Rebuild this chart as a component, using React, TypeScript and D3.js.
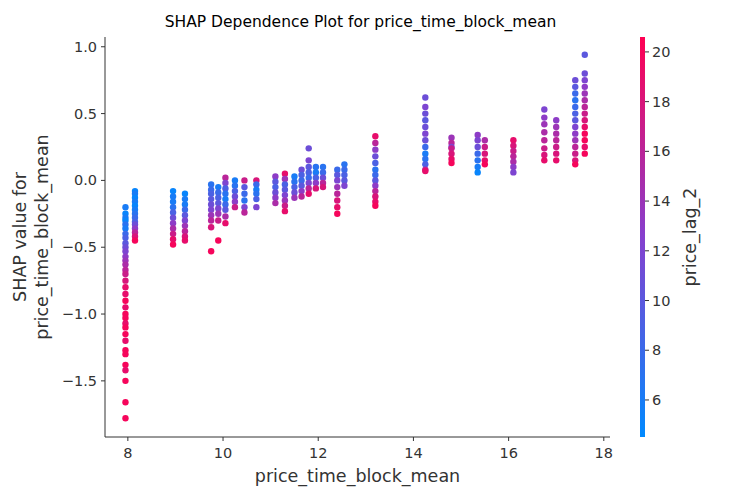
import * as d3 from "d3";

// x position of each vertical strip of points
const xValues = [7.95, 8.15, 8.95, 9.2, 9.75, 9.9, 10.05, 10.25, 10.45, 10.7, 11.1, 11.3, 11.5, 11.65, 11.8, 11.95, 12.1, 12.4, 12.55, 13.2, 14.25, 14.8, 15.35, 15.5, 16.1, 16.75, 17.0, 17.4, 17.6];

// SHAP values per strip
const shapValues = [
  [-0.2, -0.25, -0.28, -0.3, -0.33, -0.36, -0.4, -0.43, -0.47, -0.5, -0.53, -0.57, -0.6, -0.63, -0.67, -0.7, -0.75, -0.8, -0.85, -0.9, -0.95, -1.0, -1.03, -1.07, -1.1, -1.15, -1.2, -1.27, -1.3, -1.38, -1.42, -1.5, -1.66, -1.78],
  [-0.08, -0.1, -0.13, -0.16, -0.19, -0.22, -0.25, -0.28, -0.31, -0.33, -0.36, -0.39, -0.42, -0.45],
  [-0.08, -0.12, -0.16, -0.2, -0.24, -0.28, -0.32, -0.36, -0.4, -0.44, -0.48],
  [-0.1, -0.14, -0.18, -0.22, -0.26, -0.3, -0.34, -0.38, -0.42, -0.45],
  [-0.03, -0.07, -0.1, -0.14, -0.18, -0.22, -0.26, -0.3, -0.35, -0.53],
  [-0.05, -0.09, -0.13, -0.17, -0.21, -0.25, -0.3, -0.45],
  [0.02, -0.02, -0.06, -0.1, -0.14, -0.18, -0.22, -0.27, -0.32],
  [0.0, -0.04, -0.08, -0.12, -0.16, -0.2],
  [0.0, -0.05, -0.1, -0.15, -0.2, -0.24],
  [0.0, -0.03, -0.07, -0.1, -0.14, -0.2],
  [0.03, -0.01, -0.05, -0.09, -0.13, -0.17],
  [0.05, 0.01, -0.03, -0.07, -0.11, -0.15, -0.19, -0.23],
  [0.03, -0.01, -0.05, -0.09, -0.13],
  [0.08, 0.04, 0.0, -0.04, -0.08, -0.12],
  [0.24, 0.15, 0.1, 0.06, 0.02, -0.02, -0.06, -0.1],
  [0.1, 0.06, 0.02, -0.02, -0.06],
  [0.1, 0.06, 0.02, -0.02, -0.05],
  [0.08, 0.04, 0.0, -0.05, -0.1, -0.15, -0.2, -0.25],
  [0.12, 0.08, 0.04, 0.0, -0.04],
  [0.33, 0.28, 0.23, 0.18, 0.13, 0.08, 0.04, 0.0, -0.04, -0.08, -0.12, -0.16, -0.19],
  [0.62, 0.55, 0.5, 0.45, 0.4, 0.35, 0.3, 0.25, 0.2, 0.16, 0.12, 0.08, 0.07],
  [0.32, 0.28, 0.25, 0.24, 0.2, 0.16, 0.13],
  [0.34, 0.3, 0.25, 0.2, 0.15, 0.1, 0.06],
  [0.3, 0.25, 0.2, 0.15, 0.12],
  [0.3, 0.26, 0.22, 0.18, 0.14, 0.1, 0.06],
  [0.53, 0.47, 0.42, 0.36, 0.3, 0.24, 0.19, 0.15],
  [0.45, 0.4, 0.35, 0.3, 0.25, 0.2, 0.15],
  [0.75, 0.7, 0.65, 0.6, 0.55, 0.5, 0.45, 0.4, 0.35, 0.3, 0.25, 0.2, 0.15, 0.12],
  [0.94, 0.8, 0.75, 0.7, 0.65, 0.6, 0.55, 0.5, 0.45, 0.4, 0.35, 0.3, 0.25, 0.2],
];

// price_lag_2 value (colour) per point
const lagValues = [
  [6, 5, 6, 5, 7, 6, 8, 9, 10, 11, 12, 13, 14, 15, 16, 17, 18, 19, 19, 20, 19, 20, 20, 19, 20, 20, 19, 20, 20, 20, 19, 20, 20, 20],
  [5, 6, 5, 6, 5, 6, 7, 8, 9, 11, 13, 16, 18, 20],
  [5, 6, 6, 7, 9, 11, 13, 15, 17, 19, 20],
  [5, 6, 6, 8, 10, 12, 14, 16, 18, 19],
  [7, 8, 9, 10, 11, 12, 14, 16, 18, 20],
  [6, 8, 9, 10, 12, 14, 17, 20],
  [16, 12, 9, 7, 6, 8, 10, 15, 19],
  [6, 7, 9, 11, 13, 17],
  [17, 10, 8, 7, 12, 16],
  [18, 8, 6, 7, 9, 12],
  [13, 10, 9, 11, 13, 15],
  [19, 14, 9, 10, 12, 14, 17, 19],
  [6, 7, 9, 11, 14],
  [11, 9, 8, 10, 13, 16],
  [11, 12, 10, 9, 8, 12, 16, 19],
  [7, 6, 9, 13, 18],
  [7, 8, 11, 16, 18],
  [8, 10, 12, 14, 16, 18, 19, 20],
  [7, 8, 9, 10, 12],
  [19, 16, 13, 11, 9, 7, 8, 10, 13, 16, 18, 19, 20],
  [11, 12, 11, 10, 11, 12, 11, 8, 6, 7, 9, 16, 19],
  [14, 16, 12, 17, 18, 19, 20],
  [13, 12, 11, 8, 7, 6, 5],
  [15, 17, 18, 19, 20],
  [19, 18, 17, 16, 15, 13, 12],
  [12, 13, 14, 15, 16, 17, 18, 19],
  [13, 14, 15, 16, 17, 18, 19],
  [11, 10, 8, 7, 8, 9, 10, 12, 13, 14, 16, 17, 18, 20],
  [10, 11, 12, 13, 14, 15, 16, 17, 18, 19, 20, 20, 19, 20],
];

const xTicks = [8, 10, 12, 14, 16, 18];
const yTicks = [1.0, 0.5, 0.0, -0.5, -1.0, -1.5];
const cTicks = [6, 8, 10, 12, 14, 16, 18, 20];

const W = 750, H = 500;
const m = { left: 105, right: 140, top: 37, bottom: 63 };
const font = "DejaVu Sans, sans-serif";

export default function App() {
  const x = d3.scaleLinear().domain([7.52, 18.13]).range([m.left, W - m.right]);
  const y = d3.scaleLinear().domain([-1.92, 1.073]).range([H - m.bottom, m.top]);
  const cDom: [number, number] = [4.51, 20.6];
  const color = d3.scaleLinear<string>()
    .domain([cDom[0], (cDom[0] + cDom[1]) / 2, cDom[1]])
    .range(["rgb(0,138,255)", "rgb(134,64,206)", "rgb(255,0,82)"])
    .interpolate(d3.interpolateRgb);
  const cy = d3.scaleLinear().domain(cDom).range([H - m.bottom, m.top]);
  const barX = 640, barW = 5;

  const pts = xValues.flatMap((xv, i) =>
    shapValues[i].map((sv, j) => ({ x: xv, y: sv, c: lagValues[i][j] }))
  );

  const stops = d3.range(0, 1.0001, 0.1);

  return (
    <svg width={W} height={H} style={{ position: "absolute", left: 0, top: 0 }} fontFamily={font}>
      <defs>
        <linearGradient id="cb" x1="0" y1="1" x2="0" y2="0">
          {stops.map((t) => (
            <stop key={t} offset={t} stopColor={color(cDom[0] + t * (cDom[1] - cDom[0]))} />
          ))}
        </linearGradient>
      </defs>
      <text x={(m.left + W - m.right) / 2 + 3} y={27} textAnchor="middle" fontSize={15.5}>
        SHAP Dependence Plot for price_time_block_mean
      </text>

      {pts.map((p, i) => (
        <circle key={i} cx={x(p.x)} cy={y(p.y)} r={3.2} fill={color(p.c)} />
      ))}

      {/* axes */}
      <line x1={m.left} x2={m.left} y1={m.top} y2={H - m.bottom} stroke="#333" />
      <line x1={m.left} x2={W - m.right} y1={H - m.bottom} y2={H - m.bottom} stroke="#333" />
      {xTicks.map((t) => (
        <g key={t} transform={`translate(${x(t)},${H - m.bottom})`}>
          <line y2={4} stroke="#333" />
          <text y={21} textAnchor="middle" fontSize={14.5} fill="#333">{t}</text>
        </g>
      ))}
      {yTicks.map((t) => (
        <g key={t} transform={`translate(${m.left},${y(t)})`}>
          <line x2={-4} stroke="#333" />
          <text x={-8} dy="0.35em" textAnchor="end" fontSize={14.5} fill="#333">
            {t === 0 ? "0.0" : d3.format(".1f")(t).replace("-", "\u2212")}
          </text>
        </g>
      ))}
      <text x={(m.left + W - m.right) / 2} y={482} textAnchor="middle" fontSize={17.5} fill="#333">
        price_time_block_mean
      </text>
      <text transform={`translate(26,${(m.top + H - m.bottom) / 2}) rotate(-90)`} textAnchor="middle" fontSize={17.5} fill="#333">
        <tspan x={0} dy={0}>SHAP value for</tspan>
        <tspan x={0} dy={22}>price_time_block_mean</tspan>
      </text>

      {/* colour bar */}
      <rect x={barX} y={m.top} width={barW} height={H - m.top - m.bottom} fill="url(#cb)" />
      {cTicks.map((t) => (
        <g key={t} transform={`translate(${barX + barW},${cy(t)})`}>
          <line x2={4} stroke="#333" />
          <text x={7} dy="0.35em" fontSize={14.5} fill="#333">{t}</text>
        </g>
      ))}
      <text transform={`translate(696,${(m.top + H - m.bottom) / 2}) rotate(-90)`} textAnchor="middle" fontSize={17.5} fill="#333">
        price_lag_2
      </text>
    </svg>
  );
}
